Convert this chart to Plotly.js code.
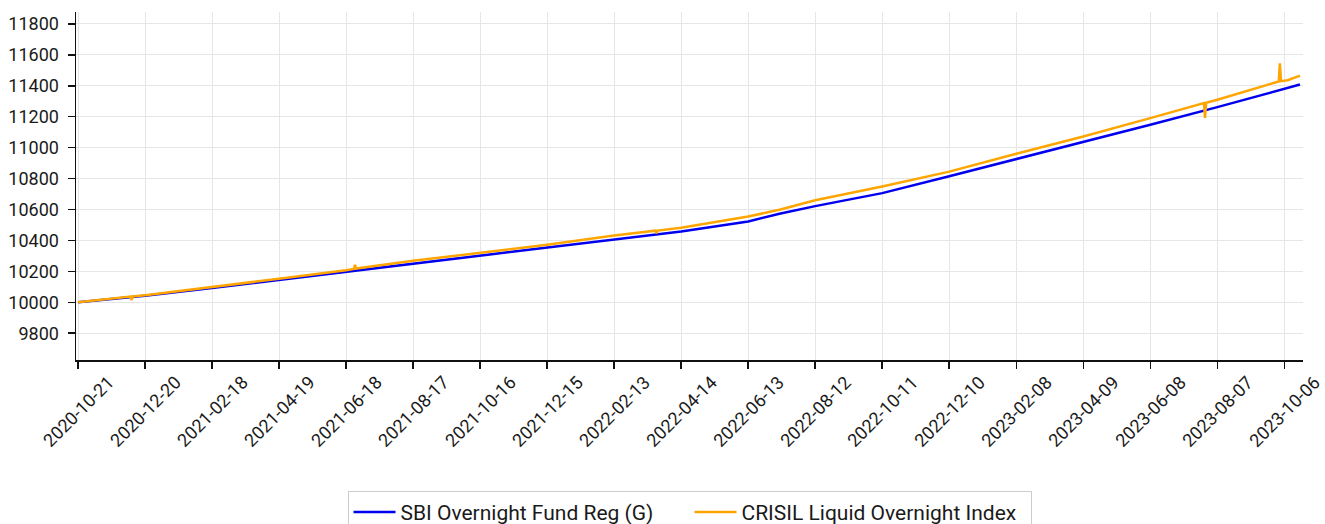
<!DOCTYPE html>
<html>
<head>
<meta charset="utf-8">
<script src="https://cdn.plot.ly/plotly-3.0.1.min.js"></script>
<style>html,body{margin:0;padding:0;background:#fff;}#chart{width:1325px;height:524px;}</style>
</head>
<body>
<div id="chart"></div>
<script>
const sbiName = 'SBI Overnight Fund Reg (G)';
const crisilName = 'CRISIL Liquid Overnight Index';

const sbiDates = ['2020-10-21','2020-12-20','2021-02-18','2021-04-19','2021-06-18','2021-08-17','2021-10-16','2021-12-15','2022-02-13','2022-04-14','2022-06-13','2022-07-11','2022-08-12','2022-10-11','2022-12-10','2023-02-08','2023-04-09','2023-06-08','2023-08-07','2023-10-06','2023-10-20'];
const sbiValues = [10000,10043,10093,10145,10200,10253,10305,10355,10408,10458,10523,10572,10622,10706,10815,10926,11034,11148,11262,11379,11408];

const crisilDates = ['2020-10-21','2020-12-07','2020-12-08','2020-12-09','2020-12-20','2021-02-18','2021-04-19','2021-06-18','2021-06-25','2021-06-26','2021-06-27','2021-08-17','2021-10-16','2021-12-15','2022-02-13','2022-03-22','2022-03-23','2022-03-24','2022-04-14','2022-06-13','2022-07-11','2022-08-12','2022-10-11','2022-12-10','2023-02-08','2023-04-09','2023-06-08','2023-07-26','2023-07-27','2023-07-28','2023-08-07','2023-10-01','2023-10-02','2023-10-03','2023-10-09','2023-10-20'];
const crisilValues = [10000,10037,10015,10038,10046,10098,10152,10208,10216,10243,10218,10268,10322,10372,10432,10463,10446,10464,10482,10555,10598,10660,10749,10845,10961,11072,11191,11288,11192,11290,11310,11428,11545,11430,11436,11466];

const xTickLabels = ['2020-10-21','2020-12-20','2021-02-18','2021-04-19','2021-06-18','2021-08-17','2021-10-16','2021-12-15','2022-02-13','2022-04-14','2022-06-13','2022-08-12','2022-10-11','2022-12-10','2023-02-08','2023-04-09','2023-06-08','2023-08-07','2023-10-06'];
const yTicks = [9800,10000,10200,10400,10600,10800,11000,11200,11400,11600,11800];

const fam = 'Roboto, "Noto Sans", sans-serif';
const font = {family: fam, size: 18, color: '#1a1a1a'};
const legendFont = {family: fam, size: 21, color: '#1a1a1a'};

const traces = [
  {x: sbiDates, y: sbiValues, name: sbiName, type: 'scatter', mode: 'lines',
   line: {color: '#0000ee', width: 2.5}},
  {x: crisilDates, y: crisilValues, name: crisilName, type: 'scatter', mode: 'lines',
   line: {color: '#ffa500', width: 2.5}}
];

const annotations = xTickLabels.map(d => ({
  x: d, xref: 'x', y: 0, yref: 'paper',
  text: d, showarrow: false, textangle: -45,
  xanchor: 'center', yanchor: 'top', yshift: -9,
  font: font
}));

const layout = {
  width: 1325, height: 524,
  margin: {l: 76, r: 22, t: 12, b: 164, autoexpand: false},
  paper_bgcolor: '#fff', plot_bgcolor: '#fff',
  font: font,
  showlegend: true,
  legend: {orientation: 'h', x: 0.5, xanchor: 'center', y: -0.376, yanchor: 'top',
           itemwidth: 42, entrywidth: 284, entrywidthmode: 'pixels',
           bordercolor: '#cccccc', borderwidth: 1, bgcolor: '#fff', font: legendFont},
  annotations: annotations,
  xaxis: {
    type: 'date',
    range: ['2020-10-19 05:00', '2023-10-22 17:00'],
    tickvals: xTickLabels,
    showticklabels: false,
    showgrid: true, gridcolor: '#e6e6e6', gridwidth: 1,
    showline: true, linecolor: '#111', linewidth: 1.5,
    ticks: 'outside', ticklen: 7, tickwidth: 1.5, tickcolor: '#111',
    zeroline: false
  },
  yaxis: {
    range: [9627, 11877],
    tickvals: yTicks,
    tickformat: 'd',
    ticklabelstandoff: 5,
    showgrid: true, gridcolor: '#e6e6e6', gridwidth: 1,
    showline: true, linecolor: '#111', linewidth: 1.5,
    ticks: 'outside', ticklen: 7, tickwidth: 1.5, tickcolor: '#111',
    zeroline: false, tickfont: font
  }
};

Plotly.newPlot('chart', traces, layout, {staticPlot: true, displayModeBar: false});
</script>
</body>
</html>
